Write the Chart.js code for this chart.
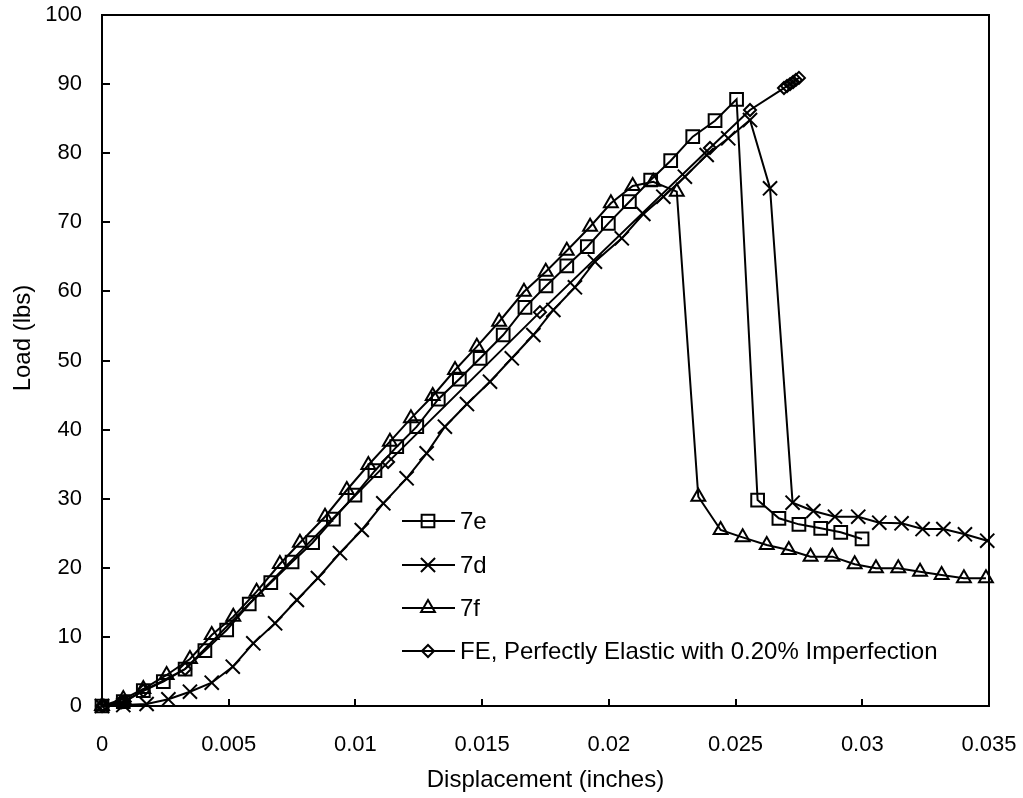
<!DOCTYPE html>
<html>
<head>
<meta charset="utf-8">
<script src="https://cdn.jsdelivr.net/npm/chart.js@4.4.1/dist/chart.umd.min.js"></script>
<style>
  html, body { margin: 0; padding: 0; background: #ffffff; }
  #wrap { width: 1023px; height: 798px; }
</style>
</head>
<body>
<div id="wrap"><canvas id="chart" width="1023" height="798"></canvas></div>
<script>
// Load-displacement test records (inches, lbs)
const disp7e = [0, 0.00084, 0.00163, 0.00242, 0.00328, 0.00406, 0.00492, 0.00581, 0.00666, 0.00750,
  0.00831, 0.00913, 0.00998, 0.01077, 0.01163, 0.01242, 0.01327, 0.01410, 0.01492, 0.01583,
  0.01669, 0.01752, 0.01834, 0.01915, 0.01998, 0.02081, 0.02165, 0.02244, 0.02331, 0.02419,
  0.02504, 0.02587, 0.02671, 0.02750, 0.02836, 0.02915, 0.02999];
const load7e = [0, 0.62, 2.21, 3.52, 5.35, 8.00, 11.0, 14.76, 17.84, 20.84,
  23.63, 27.06, 30.53, 34.05, 37.53, 40.42, 44.4, 47.32, 50.32, 53.69,
  57.70, 60.78, 63.68, 66.47, 69.85, 72.98, 76.12, 78.91, 82.39, 84.70,
  87.80, 29.81, 27.16, 26.29, 25.72, 25.14, 24.17];

const disp7d = [0, 0.00084, 0.00176, 0.00262, 0.00347, 0.00433, 0.00516, 0.00597, 0.00683, 0.00769,
  0.00852, 0.00939, 0.01025, 0.01110, 0.01202, 0.01281, 0.01353, 0.01440, 0.01531, 0.01617,
  0.01702, 0.01781, 0.01866, 0.01945, 0.02051, 0.02136, 0.02215, 0.02300, 0.02386, 0.02471,
  0.02557, 0.02636, 0.02725, 0.02807, 0.02892, 0.02984, 0.03067, 0.03155, 0.03238, 0.03320,
  0.03405, 0.03493];
const load7d = [0, 0.14, 0.29, 0.97, 2.07, 3.37, 5.69, 9.07, 11.97, 15.34,
  18.52, 22.14, 25.47, 29.33, 32.95, 36.57, 40.42, 43.70, 46.93, 50.32,
  53.69, 57.31, 60.59, 64.30, 67.68, 71.20, 73.70, 76.60, 79.74, 82.15,
  84.80, 74.92, 29.42, 28.22, 27.39, 27.39, 26.53, 26.44, 25.61, 25.61,
  24.85, 23.92];

const disp7f = [0, 0.00084, 0.00163, 0.00255, 0.00347, 0.00433, 0.00518, 0.00610, 0.00702, 0.00781,
  0.00880, 0.00966, 0.01051, 0.01136, 0.01219, 0.01305, 0.01393, 0.01479, 0.01567, 0.01665,
  0.01751, 0.01834, 0.01926, 0.02008, 0.02094, 0.02175, 0.02268, 0.02353, 0.02441, 0.02528,
  0.02623, 0.02710, 0.02796, 0.02882, 0.02970, 0.03054, 0.03142, 0.03228, 0.03313, 0.03401,
  0.03488];
const load7f = [0, 1.01, 2.46, 4.49, 6.80, 10.27, 12.92, 16.54, 20.55, 23.63,
  27.39, 31.26, 34.88, 38.25, 41.63, 44.86, 48.62, 52.00, 55.61, 59.95,
  62.85, 65.89, 69.36, 72.75, 75.25, 75.87, 74.43, 30.29, 25.47, 24.41,
  23.30, 22.58, 21.61, 21.61, 20.51, 19.93, 19.93, 19.44, 18.96, 18.48,
  18.48];

// Finite element prediction, perfectly elastic, 0.20% imperfection
const dispFE = [0, 0.00003, 0.00008, 0.00070, 0.00078, 0.00084, 0.00090, 0.00163, 0.00328, 0.01129,
  0.01728, 0.02399, 0.02557, 0.02691, 0.02703, 0.02715, 0.02727, 0.02738, 0.02750];
const loadFE = [0, 0.02, 0.05, 0.45, 0.52, 0.60, 0.65, 2.2, 5.35, 35.3,
  57.0, 80.75, 86.25, 89.43, 89.72, 90.0, 90.3, 90.6, 90.9];

const seriesNames = ['7e', '7d', '7f', 'FE, Perfectly Elastic with 0.20% Imperfection'];

const xTickValues = [0, 0.005, 0.01, 0.015, 0.02, 0.025, 0.03, 0.035];
const xTickLabels = ['0', '0.005', '0.01', '0.015', '0.02', '0.025', '0.03', '0.035'];
const yTickValues = [0, 10, 20, 30, 40, 50, 60, 70, 80, 90, 100];
const yTickLabels = ['0', '10', '20', '30', '40', '50', '60', '70', '80', '90', '100'];

const xTitle = 'Displacement (inches)';
const yTitle = 'Load (lbs)';

const FONT = '"Liberation Sans", Arial, sans-serif';
const TICK_SIZE = 22;
const TEXT_SIZE = 24;

function pts(xs, ys) { return xs.map((x, i) => ({ x: x, y: ys[i] })); }

const markerStyles = [
  { pointStyle: 'rect', radius: 9 },
  { pointStyle: 'crossRot', radius: 10 },
  { pointStyle: 'triangle', radius: 8 },
  { pointStyle: 'rectRot', radius: 6 }
];

function makeSet(label, data, m) {
  return {
    label: label,
    data: data,
    borderColor: '#000',
    borderWidth: 2,
    pointStyle: m.pointStyle,
    pointRadius: m.radius,
    pointHoverRadius: m.radius,
    pointBorderColor: '#000',
    pointBackgroundColor: 'rgba(0,0,0,0)',
    pointBorderWidth: 2,
    showLine: true,
    tension: 0,
    fill: false,
    clip: false
  };
}

// Frame, inward tick marks, axis titles and the in-plot legend
const decor = {
  id: 'decor',
  beforeDatasetsDraw(chart) {
    const ctx = chart.ctx;
    const a = chart.chartArea;
    const xs = chart.scales.x, ys = chart.scales.y;
    ctx.save();
    ctx.strokeStyle = '#000';
    ctx.lineWidth = 2;
    ctx.strokeRect(a.left, a.top, a.right - a.left, a.bottom - a.top);
    ctx.beginPath();
    xTickValues.forEach(v => {
      const px = Math.round(xs.getPixelForValue(v));
      ctx.moveTo(px, a.bottom);
      ctx.lineTo(px, a.bottom - 7);
    });
    yTickValues.forEach(v => {
      const py = Math.round(ys.getPixelForValue(v));
      ctx.moveTo(a.left, py);
      ctx.lineTo(a.left + 8, py);
    });
    ctx.stroke();
    ctx.restore();
  },
  afterDraw(chart) {
    const ctx = chart.ctx;
    const a = chart.chartArea;
    ctx.save();
    ctx.fillStyle = '#000';
    ctx.font = TEXT_SIZE + 'px ' + FONT;
    ctx.textAlign = 'center';
    ctx.textBaseline = 'middle';
    ctx.fillText(xTitle, (a.left + a.right) / 2, 780);
    ctx.translate(23, 338);
    ctx.rotate(-Math.PI / 2);
    ctx.fillText(yTitle, 0, 0);
    ctx.restore();

    // legend
    const rows = [521, 565, 608, 651];
    const x0 = 402, x1 = 455, xm = 428, xt = 460;
    ctx.save();
    ctx.strokeStyle = '#000';
    ctx.lineWidth = 2;
    ctx.font = TEXT_SIZE + 'px ' + FONT;
    ctx.textAlign = 'left';
    ctx.textBaseline = 'middle';
    chart.data.datasets.forEach((ds, i) => {
      const y = rows[i];
      ctx.beginPath();
      ctx.moveTo(x0, y);
      ctx.lineTo(x1, y);
      ctx.stroke();
      ctx.fillStyle = 'rgba(0,0,0,0)';
      Chart.helpers.drawPoint(ctx, {
        pointStyle: ds.pointStyle,
        radius: ds.pointRadius,
        rotation: 0,
        borderWidth: 2
      }, xm, y);
      ctx.fillStyle = '#000';
      ctx.fillText(ds.label, xt, y + 1);
    });
    ctx.restore();
  }
};

new Chart(document.getElementById('chart'), {
  type: 'scatter',
  data: {
    datasets: [
      makeSet(seriesNames[0], pts(disp7e, load7e), markerStyles[0]),
      makeSet(seriesNames[1], pts(disp7d, load7d), markerStyles[1]),
      makeSet(seriesNames[2], pts(disp7f, load7f), markerStyles[2]),
      makeSet(seriesNames[3], pts(dispFE, loadFE), markerStyles[3])
    ]
  },
  options: {
    responsive: false,
    animation: false,
    devicePixelRatio: 1,
    layout: { padding: { left: 0, right: 34, top: 15, bottom: 0 } },
    plugins: {
      legend: { display: false },
      tooltip: { enabled: false },
      title: { display: false }
    },
    scales: {
      x: {
        type: 'linear',
        min: 0,
        max: 0.035,
        afterBuildTicks: s => { s.ticks = xTickValues.map(v => ({ value: v })); },
        afterFit: s => {
          s.height = 92;
          s.paddingLeft = 0; s.paddingRight = 0;
        },
        grid: { display: false, drawTicks: false },
        border: { display: false },
        ticks: {
          padding: 26,
          color: '#000',
          font: { family: FONT, size: TICK_SIZE },
          maxRotation: 0,
          autoSkip: false,
          callback: v => xTickLabels[xTickValues.indexOf(v)]
        }
      },
      y: {
        type: 'linear',
        min: 0,
        max: 100,
        afterBuildTicks: s => { s.ticks = yTickValues.map(v => ({ value: v })); },
        afterFit: s => {
          s.width = 102;
          s.paddingTop = 0; s.paddingBottom = 0;
        },
        grid: { display: false, drawTicks: false },
        border: { display: false },
        ticks: {
          padding: 20,
          color: '#000',
          font: { family: FONT, size: TICK_SIZE },
          autoSkip: false,
          callback: v => yTickLabels[yTickValues.indexOf(v)]
        }
      }
    }
  },
  plugins: [decor]
});
</script>
</body>
</html>
